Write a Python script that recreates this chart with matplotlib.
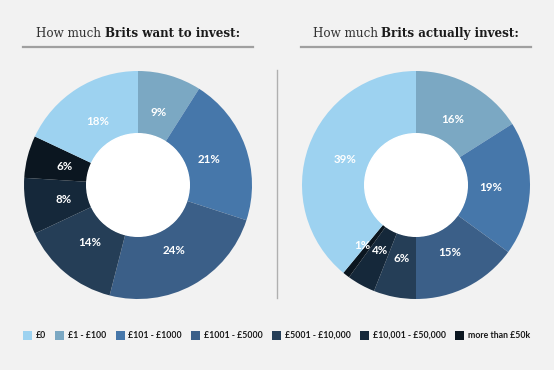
import matplotlib
matplotlib.use("Agg")
import matplotlib.pyplot as plt
from matplotlib.patches import Rectangle
from matplotlib.lines import Line2D
import numpy as np

W, H = 554, 370
categories = ["£0", "£1 - £100", "£101 - £1000", "£1001 - £5000",
              "£5001 - £10,000", "£10,001 - £50,000", "more than £50k"]
colors = ["#9dd2f0", "#7ba8c3", "#4677aa", "#3b5f88", "#253e57", "#15283a", "#0b1620"]
want = [18, 9, 21, 24, 14, 8, 6]
actual = [39, 16, 19, 15, 6, 4, 1]
titles = [("How much ", "Brits want to invest:"), ("How much ", "Brits actually invest:")]

# clockwise order starting at 12 o'clock: £1-£100 first, £0 last
order = [1, 2, 3, 4, 5, 6, 0]

fig = plt.figure(figsize=(W / 100, H / 100), dpi=100)
fig.patch.set_facecolor("#f2f2f2")

def px(x, y):
    return x / W, 1 - y / H

centers = [(138, 185), (416, 185)]
R = 114
for (cx, cy), vals in zip(centers, [want, actual]):
    ax = fig.add_axes([(cx - R) / W, (H - cy - R) / H, 2 * R / W, 2 * R / H])
    v = [vals[i] for i in order]
    c = [colors[i] for i in order]
    wedges, _, autotexts = ax.pie(v, colors=c, startangle=90, counterclock=False,
                                  radius=1, autopct=lambda p: f"{p:.0f}%", pctdistance=0.66,
                                  wedgeprops=dict(width=0.55, edgecolor="none"))
    for wdg, t in zip(wedges, autotexts):
        t.set_color("white"); t.set_fontsize(8.3); t.set_fontfamily("Lato"); t.set_fontweight("bold")
        if wdg.theta2 - wdg.theta1 < 5:
            ang = np.deg2rad((wdg.theta1 + wdg.theta2) / 2 - 4)
            t.set_position((0.71 * np.cos(ang), 0.71 * np.sin(ang)))
    ax.add_patch(plt.Circle((0, 0), 0.45, color="white", zorder=5))
    ax.set_xlim(-1, 1); ax.set_ylim(-1, 1); ax.set_aspect("equal"); ax.axis("off")

renderer = fig.canvas.get_renderer()
for (cx, _), (reg, bold) in zip(centers, titles):
    t1 = fig.text(0, 0, reg, fontsize=8.6, family="DejaVu Serif", color="#333333")
    t2 = fig.text(0, 0, bold, fontsize=8.6, family="DejaVu Serif", fontweight="bold", color="#1a1a1a")
    w1 = t1.get_window_extent(renderer).width
    w2 = t2.get_window_extent(renderer).width
    x0 = cx - (w1 + w2) / 2
    t1.set_position(px(x0, 37)); t2.set_position(px(x0 + w1, 37))
    fig.add_artist(Line2D([(cx - 115) / W, (cx + 115) / W], [1 - 47 / H] * 2,
                          color="#a0a0a0", lw=1.6))

fig.add_artist(Line2D([277 / W] * 2, [1 - 70 / H, 1 - 298 / H], color="#b0b0b0", lw=1))

x = 23
ly = 335
for cat, col in zip(categories, colors):
    fig.add_artist(Rectangle(px(x, ly + 4.5), 9 / W, 9 / H, transform=fig.transFigure,
                             facecolor=col, edgecolor="none"))
    t = fig.text(*px(x + 13, ly), cat, fontsize=6.3, family="Lato", fontweight="bold",
                 color="#1a1a1a", va="center")
    x += 13 + t.get_window_extent(renderer).width + 9

fig.savefig("out.png", dpi=100, facecolor=fig.get_facecolor())
